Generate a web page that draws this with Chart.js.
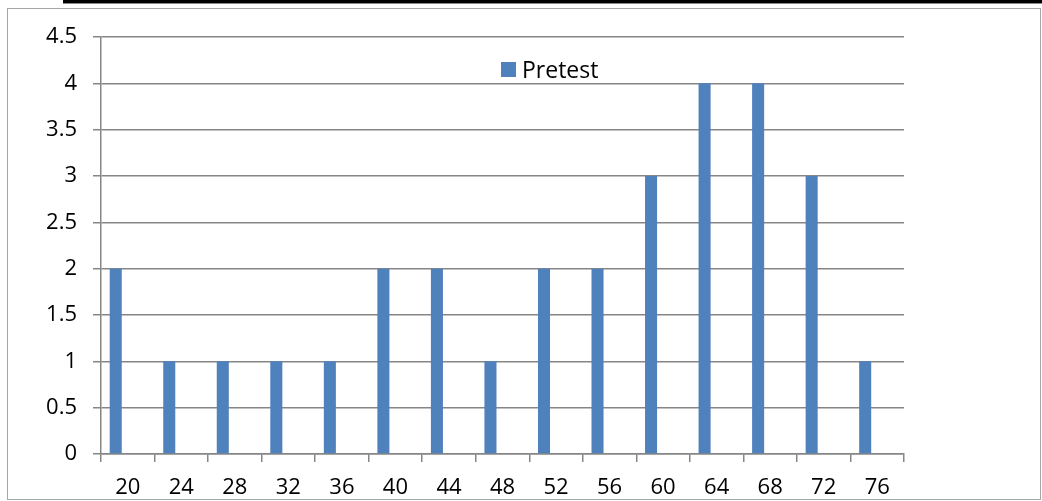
<!DOCTYPE html>
<html>
<head>
<meta charset="utf-8">
<script src="https://cdn.jsdelivr.net/npm/chart.js@4.4.0/dist/chart.umd.min.js"></script>
<style>
  body { margin: 0; background: #fff; }
  #wrap { position: relative; width: 1042px; height: 501px; overflow: hidden; font-family: 'Open Sans', sans-serif; }
  #topline { position: absolute; left: 63px; top: 0; width: 990px; height: 3px; background: #000; border-bottom: 1px solid #888; }
  #frame { position: absolute; left: 7px; top: 8px; width: 1032px; height: 490px; border: 1px solid #a6a6a6; }
  #chart { position: absolute; left: 0; top: 0; }
  #legend { position: absolute; left: 501px; top: 53px; font-size: 23px; color: #000; display: flex; align-items: center; }
  #legend span.box { display: inline-block; width: 15px; height: 15px; margin-right: 6px; }
</style>
</head>
<body>
<div id="wrap">
  <div id="topline"></div>
  <div id="frame"></div>
  <canvas id="chart" width="1042" height="501"></canvas>
  <div id="legend"></div>
</div>
<script>
// Veriler
const kategoriler = ['20', '24', '28', '32', '36', '40', '44', '48', '52', '56', '60', '64', '68', '72', '76'];
const pretest = [2, 1, 1, 1, 1, 2, 2, 1, 2, 2, 3, 4, 4, 3, 1];
const bosSeri = [null, null, null, null, null, null, null, null, null, null, null, null, null, null, null];
const yTicks = [0, 0.5, 1, 1.5, 2, 2.5, 3, 3.5, 4, 4.5];

const mavi = '#4f81bd';
const gri = '#868686';

// Legend (HTML)
const legendEl = document.getElementById('legend');
legendEl.innerHTML = `<span class="box" style="background:${mavi}"></span>Pretest`;

const ctx = document.getElementById('chart').getContext('2d');
new Chart(ctx, {
  type: 'bar',
  data: {
    labels: kategoriler,
    datasets: [
      { label: 'Pretest', data: pretest, backgroundColor: mavi, barPercentage: 0.5, categoryPercentage: 0.9 },
      { label: '', data: bosSeri, backgroundColor: 'rgba(0,0,0,0)', barPercentage: 0.5, categoryPercentage: 0.9 }
    ]
  },
  options: {
    responsive: false,
    devicePixelRatio: 1,
    animation: false,
    layout: { padding: { top: 37, right: 138, left: 0, bottom: 0 } },
    plugins: { legend: { display: false }, tooltip: { enabled: false } },
    scales: {
      x: {
        offset: true,
        grid: { offset: true, drawOnChartArea: false, color: gri, lineWidth: 1.5, tickLength: 8 },
        border: { color: gri, width: 1.5 },
        ticks: { color: '#000', font: { family: 'Open Sans', size: 22 }, padding: 13, maxRotation: 0 },
        afterFit: s => { s.height = 47; }
      },
      y: {
        min: 0,
        max: 4.5,
        afterBuildTicks: s => { s.ticks = yTicks.map(v => ({ value: v })); },
        grid: { color: gri, lineWidth: 1.5, tickLength: 8 },
        border: { color: gri, width: 1.5 },
        ticks: { color: '#000', font: { family: 'Open Sans', size: 22 }, padding: 16, callback: v => String(v) },
        afterFit: s => { s.width = 101; }
      }
    }
  }
});
</script>
</body>
</html>
